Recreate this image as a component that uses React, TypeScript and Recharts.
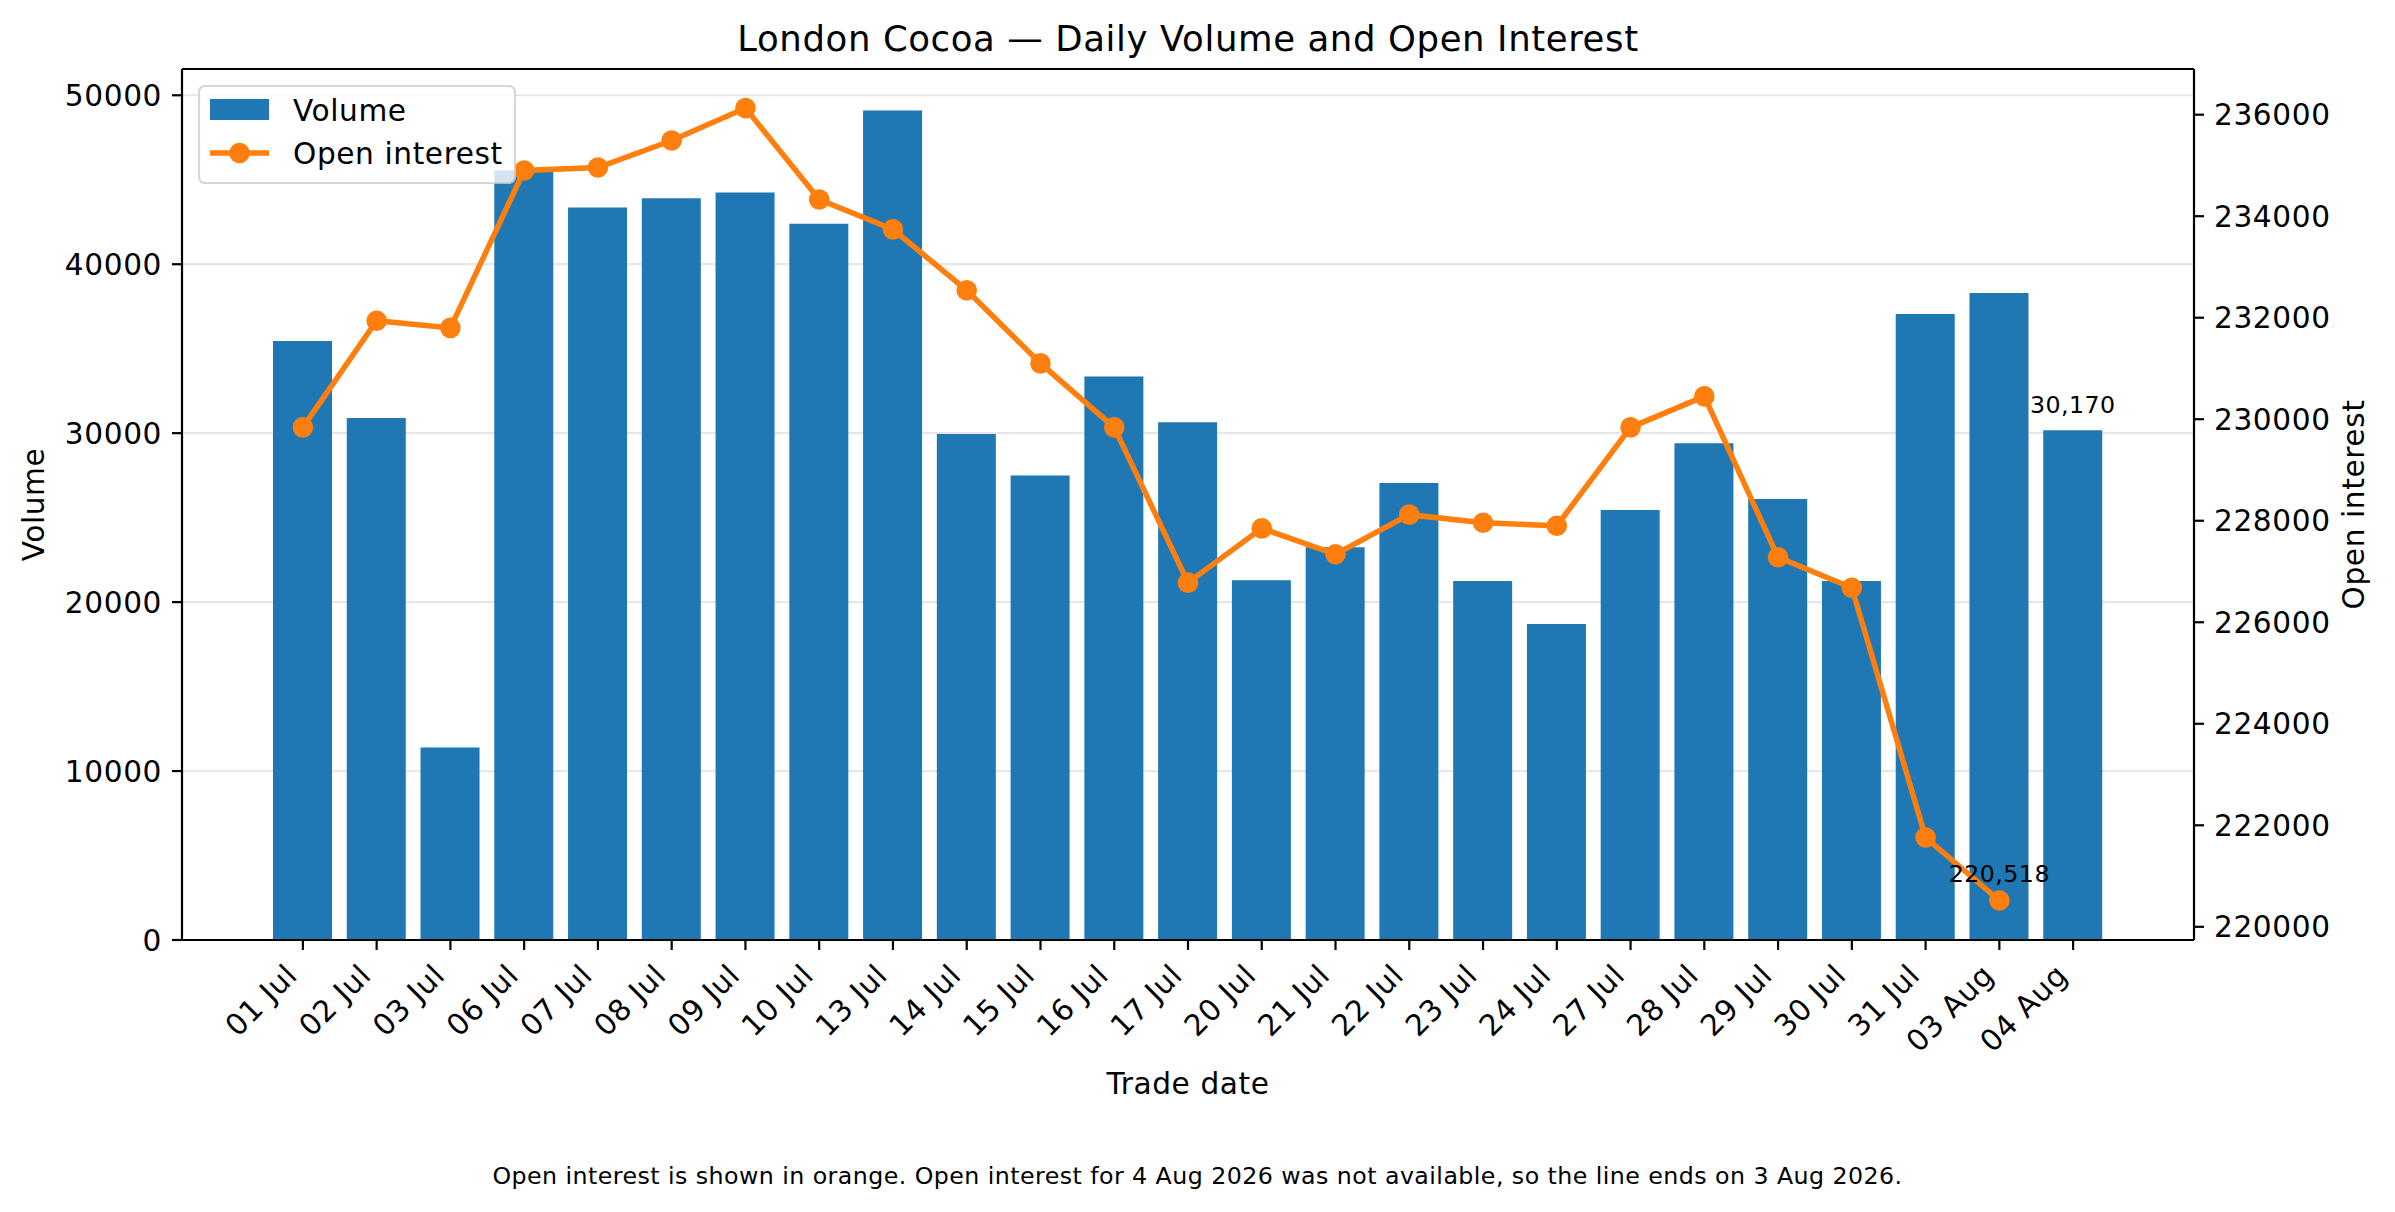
import {
  Bar,
  CartesianGrid,
  ComposedChart,
  Label,
  LabelList,
  Legend,
  Line,
  ReferenceLine,
  XAxis,
  YAxis,
} from 'recharts'

const dates = [
  '01 Jul', '02 Jul', '03 Jul', '06 Jul', '07 Jul', '08 Jul', '09 Jul', '10 Jul', '13 Jul',
  '14 Jul', '15 Jul', '16 Jul', '17 Jul', '20 Jul', '21 Jul', '22 Jul', '23 Jul', '24 Jul',
  '27 Jul', '28 Jul', '29 Jul', '30 Jul', '31 Jul', '03 Aug', '04 Aug',
]

const volume = [
  35450, 30900, 11400, 45550, 43350, 43900, 44250, 42400, 49100,
  29950, 27500, 33350, 30650, 21300, 23250, 27050, 21250, 18700,
  25450, 29400, 26100, 21250, 37050, 38300, 30170,
]

const openInterest: (number | null)[] = [
  229840, 231940, 231800, 234900, 234960, 235490, 236130, 234330, 233740,
  232540, 231100, 229840, 226780, 227850, 227340, 228120, 227960, 227900,
  229840, 230450, 227280, 226680, 221760, 220518, null,
]

const volumeTicks = [0, 10000, 20000, 30000, 40000, 50000]
const oiTicks = [220000, 222000, 224000, 226000, 228000, 230000, 232000, 234000, 236000]
const volumeDomain = [0, 51555]
const oiDomain = [219740, 236900]

const BLUE = '#1f77b4'
const ORANGE = '#ff7f0e'
const FONT = '"DejaVu Sans", sans-serif'
const TICK_FS = 29.6
const SMALL_FS = 23.7
const LS = 0.6

const data = dates.map((date, i) => ({ date, volume: volume[i], oi: openInterest[i] }))

const lastVolIdx = volume.length - 1
const lastOiIdx = openInterest.reduce((acc: number, v, i) => (v == null ? acc : i), -1)

const fmt = (v: number) => v.toLocaleString('en-US')

const DateTick = (props: any) => {
  const { x, y, payload } = props
  const ax = x - 4
  const ay = y + 27
  return (
    <text
      x={ax}
      y={ay}
      transform={`rotate(-45 ${ax} ${ay})`}
      textAnchor="end"
      fontSize={TICK_FS}
      fontFamily={FONT}
      letterSpacing={LS}
      fill="#000"
    >
      {payload.value}
    </text>
  )
}

const LegendBox = () => (
  <svg width={318} height={99} style={{ display: 'block' }}>
    <rect x={1} y={1} width={316} height={97} rx={6} fill="#fff" fillOpacity={0.8}
      stroke="#cccccc" strokeOpacity={0.8} strokeWidth={2.2} />
    <rect x={12} y={14} width={59} height={21} fill={BLUE} />
    <text x={95} y={36} fontSize={TICK_FS} fontFamily={FONT} letterSpacing={LS} fill="#000">Volume</text>
    <line x1={12} x2={71} y1={68} y2={68} stroke={ORANGE} strokeWidth={5.5} />
    <circle cx={41.5} cy={68} r={10.3} fill={ORANGE} />
    <text x={95} y={79} fontSize={TICK_FS} fontFamily={FONT} letterSpacing={LS} fill="#000">Open interest</text>
  </svg>
)

const axisProps = {
  stroke: '#000',
  strokeWidth: 2.2,
}

const tickStyle = { fontSize: TICK_FS, fill: '#000', fontFamily: FONT, letterSpacing: LS }

export default function App() {
  return (
    <div style={{ position: 'absolute', left: 0, top: 0, width: 2395, height: 1212, background: '#fff', fontFamily: FONT }}>
      <ComposedChart width={2395} height={1212} data={data} margin={{ top: 69, right: 0, bottom: 0, left: 0 }}>
        <Bar
          dataKey="volume"
          yAxisId="left"
          fill={BLUE}
          barSize={59}
          isAnimationActive={false}
        >
          <LabelList
            dataKey="volume"
            content={(p: any) =>
              p.index === lastVolIdx ? (
                <text x={p.x + p.width / 2} y={p.y - 17.5} textAnchor="middle" fontSize={SMALL_FS}
                  fontFamily={FONT} letterSpacing={0.45} fill="#000">
                  {fmt(p.value)}
                </text>
              ) : null
            }
          />
        </Bar>

        <CartesianGrid yAxisId="left" vertical={false} stroke="#b0b0b0" strokeOpacity={0.3} strokeWidth={2.2} />

        <Line
          dataKey="oi"
          yAxisId="right"
          type="linear"
          stroke={ORANGE}
          strokeWidth={5.5}
          dot={{ r: 10.3, fill: ORANGE, stroke: ORANGE, strokeWidth: 0 }}
          activeDot={false}
          connectNulls={false}
          isAnimationActive={false}
        >
          <LabelList
            dataKey="oi"
            content={(p: any) =>
              p.index === lastOiIdx ? (
                <text x={p.x} y={p.y - 19} textAnchor="middle" fontSize={SMALL_FS}
                  fontFamily={FONT} letterSpacing={0.45} fill="#000">
                  {fmt(p.value)}
                </text>
              ) : null
            }
          />
        </Line>

        <ReferenceLine yAxisId="left" y={volumeDomain[1]} ifOverflow="visible" stroke="#000" strokeWidth={2.2} />

        <XAxis
          dataKey="date"
          type="category"
          height={272}
          padding={{ left: 84, right: 84 }}
          interval={0}
          tickSize={10}
          tickMargin={0}
          tick={<DateTick />}
          axisLine={axisProps}
          tickLine={axisProps}
        >
          <Label
            content={(p: any) => (
              <text x={p.viewBox.x + p.viewBox.width / 2} y={p.viewBox.y + 154} textAnchor="middle"
                fontSize={TICK_FS} fontFamily={FONT} letterSpacing={LS} fill="#000">
                Trade date
              </text>
            )}
          />
        </XAxis>

        <YAxis
          yAxisId="left"
          width={182}
          domain={volumeDomain}
          ticks={volumeTicks}
          interval={0}
          tickSize={10}
          tickMargin={10}
          tick={tickStyle}
          axisLine={axisProps}
          tickLine={axisProps}
        >
          <Label
            content={(p: any) => {
              const cx = p.viewBox.x + 44
              const cy = p.viewBox.y + p.viewBox.height / 2
              return (
                <text x={cx} y={cy} transform={`rotate(-90 ${cx} ${cy})`} textAnchor="middle"
                  fontSize={TICK_FS} fontFamily={FONT} letterSpacing={LS} fill="#000">
                  Volume
                </text>
              )
            }}
          />
        </YAxis>
        <YAxis
          yAxisId="right"
          orientation="right"
          width={201}
          domain={oiDomain}
          ticks={oiTicks}
          interval={0}
          tickSize={10}
          tickMargin={10}
          tick={tickStyle}
          axisLine={axisProps}
          tickLine={axisProps}
        >
          <Label
            content={(p: any) => {
              const cx = p.viewBox.x + 170
              const cy = p.viewBox.y + p.viewBox.height / 2
              return (
                <text x={cx} y={cy} transform={`rotate(-90 ${cx} ${cy})`} textAnchor="middle"
                  fontSize={TICK_FS} fontFamily={FONT} letterSpacing={LS} fill="#000">
                  Open interest
                </text>
              )
            }}
          />
        </YAxis>

        <Legend
          layout="horizontal"
          align="center"
          verticalAlign="middle"
          content={() => <LegendBox />}
          wrapperStyle={{ left: 198, top: 85, width: 318, height: 99 }}
        />

        <text x={1188} y={51} textAnchor="middle" fontSize={35.5} fontFamily={FONT} letterSpacing={0.6} fill="#000">
          London Cocoa — Daily Volume and Open Interest
        </text>
        <text x={1197.5} y={1184} textAnchor="middle" fontSize={SMALL_FS} fontFamily={FONT} letterSpacing={0.45} fill="#000">
          Open interest is shown in orange. Open interest for 4 Aug 2026 was not available, so the line ends on 3 Aug 2026.
        </text>
      </ComposedChart>
    </div>
  )
}
